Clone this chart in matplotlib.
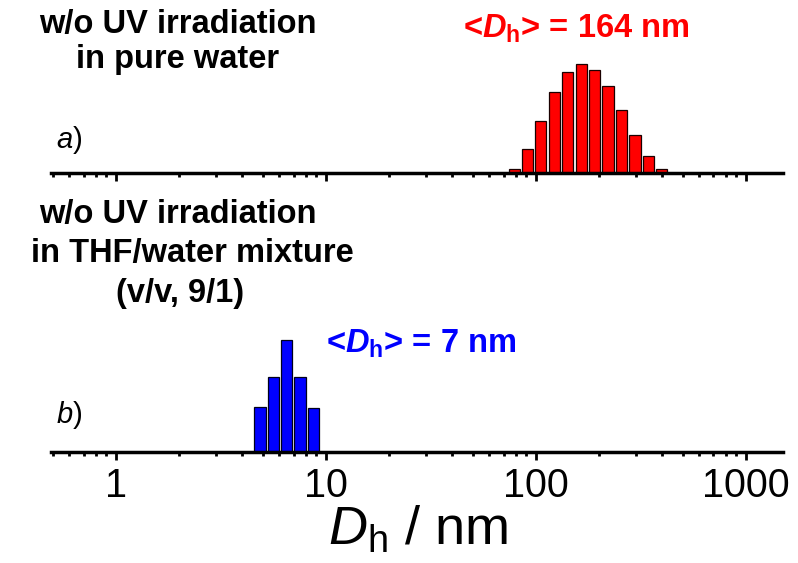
import numpy as np
import matplotlib
matplotlib.use("Agg")
import matplotlib.pyplot as plt
from matplotlib.ticker import LogLocator, NullFormatter, FixedLocator, FixedFormatter

plt.rcParams["font.family"] = ["Liberation Sans", "DejaVu Sans"]
plt.rcParams["mathtext.fontset"] = "custom"
plt.rcParams["mathtext.rm"] = "Liberation Sans"
plt.rcParams["mathtext.it"] = "Liberation Sans:italic"
plt.rcParams["mathtext.bf"] = "Liberation Sans:bold"
plt.rcParams["mathtext.bfit"] = "Liberation Sans:bold:italic"

# Size distributions (bin centre in nm, intensity in %)
water_size = [78.6, 91.1, 105.5, 122.3, 141.7, 164.1, 190.2, 220.3, 255.3, 295.8, 342.7, 397.0]
water_intensity = [0.6, 3.5, 7.6, 11.8, 14.8, 16.0, 15.1, 12.7, 9.2, 5.6, 2.5, 0.6]

thf_size = [4.85, 5.61, 6.50, 7.52, 8.70]
thf_intensity = [12.7, 21.5, 31.9, 21.5, 12.4]

tick_values = [1, 10, 100, 1000]
tick_labels = ["1", "10", "100", "1000"]

W, H = 798, 563
fig = plt.figure(figsize=(W / 100, H / 100), dpi=100)

def fx(px):
    return px / W

def fy(py):
    return 1 - py / H

ax_left, ax_right = 51, 783
ax_h = 140
ax1 = fig.add_axes([fx(ax_left), fy(173), fx(ax_right - ax_left), ax_h / H])
ax2 = fig.add_axes([fx(ax_left), fy(452), fx(ax_right - ax_left), ax_h / H])

half_w = 0.053 / 2  # bar half-width in decades


def log_bars(ax, centers, heights, color, edge):
    c = np.asarray(centers, dtype=float)
    left = c / 10 ** half_w
    right = c * 10 ** half_w
    ax.bar(left, heights, width=right - left, align="edge", color=color,
           edgecolor=edge, linewidth=0.9, zorder=2)


log_bars(ax1, water_size, water_intensity, "#ff0000", "#1a0000")
log_bars(ax2, thf_size, thf_intensity, "#0000ff", "#00001a")

ax1.set_ylim(0, 20.5)
ax2.set_ylim(0, 39.9)

for ax in (ax1, ax2):
    ax.set_xscale("log")
    ax.set_xlim(0.49, 1500)
    for s in ("left", "right", "top"):
        ax.spines[s].set_visible(False)
    ax.spines["bottom"].set_linewidth(2.5)
    ax.spines["bottom"].set_zorder(3)
    ax.set_yticks([])
    ax.xaxis.set_major_locator(FixedLocator(tick_values))
    ax.xaxis.set_minor_locator(LogLocator(base=10, subs=np.arange(2, 10), numticks=20))
    ax.xaxis.set_minor_formatter(NullFormatter())
    ax.tick_params(axis="x", which="major", direction="out", length=5.5, width=2)
    ax.tick_params(axis="x", which="minor", direction="out", length=2.8, width=2)
    ax.patch.set_visible(False)

ax1.xaxis.set_major_formatter(NullFormatter())
ax2.xaxis.set_major_formatter(FixedFormatter(tick_labels))
ax2.tick_params(axis="x", which="major", labelsize=28.5, pad=5)

# Axis title
fig.text(fx(418), fy(545), r"$\mathit{D}_{\mathrm{h}}$ / nm", fontsize=39,
         ha="center", va="baseline")

title_size = 23.5

# Panel a annotations
fig.text(fx(178), fy(33), "w/o UV irradiation", fontsize=title_size, fontweight="bold",
         ha="center", va="baseline")
fig.text(fx(178), fy(68), "in pure water", fontsize=title_size, fontweight="bold",
         ha="center", va="baseline")
fig.text(fx(576), fy(38), r"<$\mathbfit{D}_{\mathbf{h}}$> = 164 nm", fontsize=title_size,
         fontweight="bold", color="#ff0000", ha="center", va="baseline")
fig.text(fx(56), fy(148), r"$\mathit{a}$)", fontsize=21, ha="left", va="baseline")

# Panel b annotations
fig.text(fx(178), fy(223), "w/o UV irradiation", fontsize=title_size, fontweight="bold",
         ha="center", va="baseline")
fig.text(fx(192), fy(262), "in THF/water mixture", fontsize=title_size, fontweight="bold",
         ha="center", va="baseline")
fig.text(fx(180), fy(302), "(v/v, 9/1)", fontsize=title_size, fontweight="bold",
         ha="center", va="baseline")
fig.text(fx(421), fy(353), r"<$\mathbfit{D}_{\mathbf{h}}$> = 7 nm", fontsize=title_size,
         fontweight="bold", color="#0000ff", ha="center", va="baseline")
fig.text(fx(56), fy(423), r"$\mathit{b}$)", fontsize=21, ha="left", va="baseline")

fig.savefig("out.png", dpi=100)
